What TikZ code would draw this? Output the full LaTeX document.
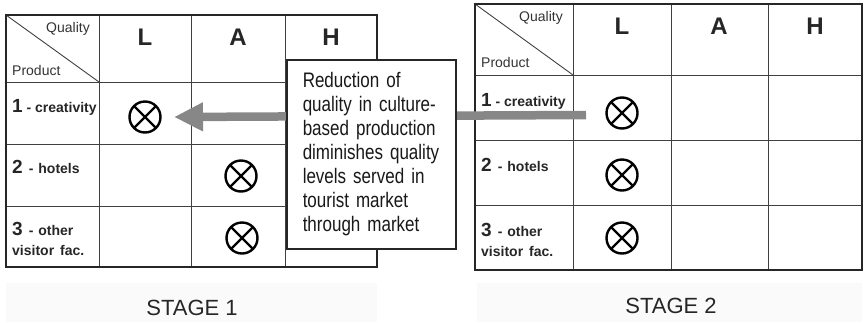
\documentclass[tikz,border=0pt]{standalone}
\usepackage{fontspec}
\setmainfont{Liberation Sans}
\newfontfamily\narrowfont[FakeStretch=0.81]{Liberation Sans}
\usetikzlibrary{arrows.meta}
\newcommand{\rownum}[1]{{\fontsize{19}{19}\selectfont #1}}
\begin{document}
\begin{tikzpicture}[x=1pt,y=-1pt,
  gridline/.style={draw=black!75, line width=0.9pt},
  frame/.style={draw=black!85, line width=1.8pt},
  hdr/.style={anchor=base, inner sep=0pt, text=black!85, font=\fontsize{24}{24}\selectfont\bfseries},
  small/.style={inner sep=0pt, text=black!80, font=\fontsize{14}{14}\selectfont},
  rowlab/.style={anchor=base west, inner sep=0pt, text=black!85, font=\fontsize{14}{14}\selectfont\bfseries},
  xmark/.style={circle, draw=black, line width=2.4pt, minimum size=31pt, inner sep=0pt,
    path picture={\draw[line width=2.2pt] (path picture bounding box.north west) -- (path picture bounding box.south east)
      (path picture bounding box.north east) -- (path picture bounding box.south west);}},
  stagelab/.style={anchor=base, inner sep=0pt, text=black!85, font=\fontsize{22}{22}\selectfont},
  band/.style={fill=black!2, draw=none},
  flow/.style={draw=black!47, line width=8.5pt, -{Triangle[length=29pt,width=27pt]}},
  note/.style={draw=black!85, line width=1.5pt, fill=white, anchor=north west,
    minimum width=169pt, minimum height=189pt, inner xsep=16pt, text width=137pt, align=left,
    text=black!90, font=\narrowfont\fontsize{21}{24}\selectfont}
]
\useasboundingbox (0,0) rectangle (864,322);

% faint bands behind stage labels
\fill[band] (6,283) rectangle (377,322);
\fill[band] (477,283) rectangle (862,322);

% ---------- Table 1 ----------
\foreach \x in {99,191,285} \draw[gridline] (\x,15) -- (\x,267);
\foreach \y in {82,144,206} \draw[gridline] (6,\y) -- (377,\y);
\draw[gridline] (6,15) -- (99,82);
\draw[frame] (6,15) rectangle (377,267);

\node[small, anchor=base east] (q1) at (90,32) {Quality};
\node[small, anchor=base west] (p1) at (12,75) {Product};
\node[hdr] (l1) at (145,45) {L};
\node[hdr] (a1) at (238,45) {A};
\node[hdr] (h1) at (331,45) {H};
\node[rowlab] (r11) at (12,112) {\rownum{1} - creativity};
\node[rowlab] (r12) at (12,173) {\rownum{2}\hspace{6pt}-\hspace{5pt}hotels};
\node[rowlab] (r13) at (12,235) {\rownum{3}\hspace{6pt}-\hspace{5pt}other};
\node[rowlab] (r13b) at (12,255) {visitor\hspace{6pt}fac.};

\node[xmark] (c11) at (145,117) {};
\node[xmark] (c12) at (241,176) {};
\node[xmark] (c13) at (242,238) {};

% ---------- Table 2 ----------
\foreach \x in {573,671,768} \draw[gridline] (\x,4) -- (\x,270);
\foreach \y in {75,140,205} \draw[gridline] (475,\y) -- (862,\y);
\draw[gridline] (475,4) -- (573,75);
\draw[frame] (475,4) rectangle (862,270);

\node[small, anchor=base east] (q2) at (563,21) {Quality};
\node[small, anchor=base west] (p2) at (481,67) {Product};
\node[hdr] (l2) at (622,34) {L};
\node[hdr] (a2) at (719,34) {A};
\node[hdr] (h2) at (815,34) {H};
\node[rowlab] (r21) at (481,106) {\rownum{1} - creativity};
\node[rowlab] (r22) at (481,171) {\rownum{2}\hspace{6pt}-\hspace{5pt}hotels};
\node[rowlab] (r23) at (481,236) {\rownum{3}\hspace{6pt}-\hspace{5pt}other};
\node[rowlab] (r23b) at (481,256) {visitor\hspace{6pt}fac.};

\node[xmark] (c21) at (622,113) {};
\node[xmark] (c22) at (622,175) {};
\node[xmark] (c23) at (622,238) {};

% ---------- arrow and note ----------
\coordinate (astart) at (586,115);
\coordinate (aend) at (174,117);
\draw[flow] (astart) -- (aend);

\node[note] (box) at (286,59) {Reduction of\\quality in culture-\\based production\\diminishes quality\\levels served in\\tourist market\\through market};

% ---------- stage labels ----------
\node[stagelab] (s1) at (192,315) {STAGE 1};
\node[stagelab] (s2) at (671,313) {STAGE 2};
\end{tikzpicture}
\end{document}
